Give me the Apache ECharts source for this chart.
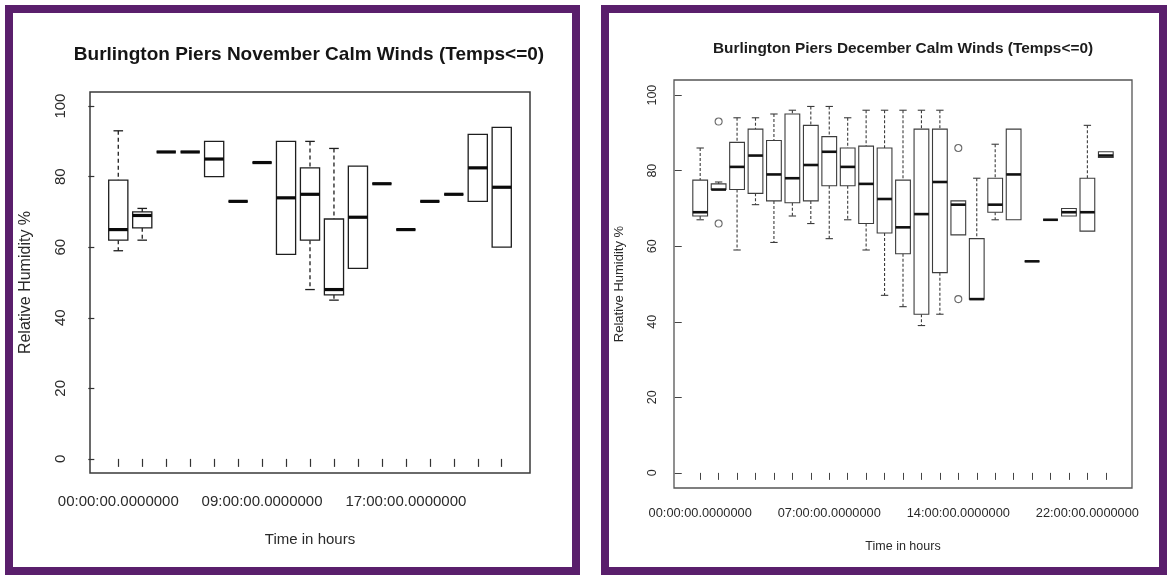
<!DOCTYPE html>
<html>
<head>
<meta charset="utf-8">
<title>Burlington Piers Calm Winds</title>
<script src="https://cdn.jsdelivr.net/npm/echarts@6/dist/echarts.min.js"></script>
<style>
  html, body { margin: 0; padding: 0; background: #ffffff; }
  #chart { width: 1167px; height: 575px; }
</style>
</head>
<body>
<div id="chart"></div>
<script>
// Hour groups (only hours that had calm, sub-zero observations)
const novHours = [
  '00:00:00.0000000', '01:00:00.0000000', '02:00:00.0000000', '04:00:00.0000000',
  '06:00:00.0000000', '07:00:00.0000000', '09:00:00.0000000', '10:00:00.0000000',
  '11:00:00.0000000', '12:00:00.0000000', '14:00:00.0000000', '15:00:00.0000000',
  '17:00:00.0000000', '18:00:00.0000000', '20:00:00.0000000', '21:00:00.0000000',
  '23:00:00.0000000'
];
const decHours = [
  '00:00:00.0000000', '01:00:00.0000000', '02:00:00.0000000', '03:00:00.0000000',
  '04:00:00.0000000', '05:00:00.0000000', '06:00:00.0000000', '07:00:00.0000000',
  '08:00:00.0000000', '09:00:00.0000000', '10:00:00.0000000', '11:00:00.0000000',
  '12:00:00.0000000', '13:00:00.0000000', '14:00:00.0000000', '15:00:00.0000000',
  '16:00:00.0000000', '17:00:00.0000000', '18:00:00.0000000', '20:00:00.0000000',
  '21:00:00.0000000', '22:00:00.0000000', '23:00:00.0000000'
];

// Relative humidity five-number summaries per hour: [min, Q1, median, Q3, max]
const novStats = [
  [59, 62, 65, 79, 93],
  [62, 65.5, 69, 70, 71],
  [87, 87, 87, 87, 87],
  [87, 87, 87, 87, 87],
  [80, 80, 85, 90, 90],
  [73, 73, 73, 73, 73],
  [84, 84, 84, 84, 84],
  [58, 58, 74, 90, 90],
  [48, 62, 75, 82.5, 90],
  [45, 46.5, 48, 68, 88],
  [54, 54, 68.5, 83, 83],
  [78, 78, 78, 78, 78],
  [65, 65, 65, 65, 65],
  [73, 73, 73, 73, 73],
  [75, 75, 75, 75, 75],
  [73, 73, 82.5, 92, 92],
  [60, 60, 77, 94, 94]
];
const decStats = [
  [67, 68, 69, 77.5, 86],
  [75, 75, 75, 76.5, 77],
  [59, 75, 81, 87.5, 94],
  [71, 74, 84, 91, 94],
  [61, 72, 79, 88, 95],
  [68, 71.5, 78, 95, 96],
  [66, 72, 81.5, 92, 97],
  [62, 76, 85, 89, 97],
  [67, 76, 81, 86, 94],
  [59, 66, 76.5, 86.5, 96],
  [47, 63.5, 72.5, 86, 96],
  [44, 58, 65, 77.5, 96],
  [39, 42, 68.5, 91, 96],
  [42, 53, 77, 91, 96],
  [63, 63, 71, 72, 72],
  [46, 46, 46, 62, 78],
  [67, 69, 71, 78, 87],
  [67, 67, 79, 91, 91],
  [56, 56, 56, 56, 56],
  [67, 67, 67, 67, 67],
  [68, 68, 69, 70, 70],
  [64, 64, 69, 78, 92],
  [83.5, 83.5, 84, 85, 85]
];
// Outliers: [group number (1-based), value]
const decOutliers = [[2, 93], [2, 66], [15, 86], [15, 46]];

const yTicks = [0, 20, 40, 60, 80, 100];
const novLabelGroups = [1, 7, 13];
const decLabelGroups = [1, 8, 15, 22];

const FONT = '"Liberation Sans", Arial, Helvetica, sans-serif';

// Box-and-whisker glyph drawn in data coordinates of the owning grid
function boxRenderer(opts) {
  return function (params, api) {
    const x = api.value(0);
    const lo = api.value(1), q1 = api.value(2), med = api.value(3), q3 = api.value(4), hi = api.value(5);
    const half = 0.4, cap = 0.2;
    const tl = api.coord([x - half, q3]);
    const br = api.coord([x + half, q1]);
    const cTop = api.coord([x, hi]);
    const cQ3 = api.coord([x, q3]);
    const cQ1 = api.coord([x, q1]);
    const cLo = api.coord([x, lo]);
    const capL = api.coord([x - cap, 0])[0];
    const capR = api.coord([x + cap, 0])[0];
    const mL = api.coord([x - half, med]);
    const mR = api.coord([x + half, med]);
    const stroke = { stroke: opts.color, lineWidth: opts.lineWidth, fill: null };
    const dashed = { stroke: opts.color, lineWidth: opts.lineWidth, lineDash: opts.dash, fill: null };
    const children = [];
    if (hi > q3) {
      children.push({ type: 'line', shape: { x1: cTop[0], y1: cTop[1], x2: cQ3[0], y2: cQ3[1] }, style: dashed });
      children.push({ type: 'line', shape: { x1: capL, y1: cTop[1], x2: capR, y2: cTop[1] }, style: stroke });
    }
    if (lo < q1) {
      children.push({ type: 'line', shape: { x1: cQ1[0], y1: cQ1[1], x2: cLo[0], y2: cLo[1] }, style: dashed });
      children.push({ type: 'line', shape: { x1: capL, y1: cLo[1], x2: capR, y2: cLo[1] }, style: stroke });
    }
    children.push({
      type: 'rect',
      shape: { x: tl[0], y: tl[1], width: br[0] - tl[0], height: br[1] - tl[1] },
      style: { stroke: opts.color, lineWidth: opts.lineWidth, fill: '#ffffff' }
    });
    children.push({
      type: 'line',
      shape: { x1: mL[0], y1: mL[1], x2: mR[0], y2: mR[1] },
      style: { stroke: opts.medianColor, lineWidth: opts.medianWidth }
    });
    return { type: 'group', children: children };
  };
}

function toItems(stats) {
  return stats.map(function (s, i) { return [i + 1].concat(s); });
}
function range(n) {
  const r = [];
  for (let i = 1; i <= n; i++) r.push(i);
  return r;
}

const nNov = novStats.length;
const nDec = decStats.length;

const chart = echarts.init(document.getElementById('chart'), null, { renderer: 'canvas' });

const frameColor = '#5a1f6c';

const option = {
  backgroundColor: '#ffffff',
  animation: false,
  graphic: [
    { type: 'rect', shape: { x: 9, y: 9, width: 567, height: 562 },
      style: { fill: null, stroke: frameColor, lineWidth: 8 }, z: 10 },
    { type: 'rect', shape: { x: 605, y: 9, width: 558, height: 562 },
      style: { fill: null, stroke: frameColor, lineWidth: 8 }, z: 10 },
    { type: 'text', x: 309, y: 55,
      style: { text: 'Burlington Piers November Calm Winds (Temps<=0)',
        font: 'bold 19px ' + FONT, fill: '#151515',
        align: 'center', verticalAlign: 'middle', textAlign: 'center', textVerticalAlign: 'middle' } },
    { type: 'text', x: 903, y: 49,
      style: { text: 'Burlington Piers December Calm Winds (Temps<=0)',
        font: 'bold 15.4px ' + FONT, fill: '#1c1c1c',
        align: 'center', verticalAlign: 'middle', textAlign: 'center', textVerticalAlign: 'middle' } }
  ],
  grid: [
    { left: 90, top: 92, width: 440, height: 381, show: true,
      borderColor: '#3a3a3a', borderWidth: 1.5, backgroundColor: 'transparent' },
    { left: 674, top: 80, width: 458, height: 408, show: true,
      borderColor: '#555555', borderWidth: 1.3, backgroundColor: 'transparent' }
  ],
  xAxis: [
    {
      type: 'value', gridIndex: 0,
      min: 0.5 - 0.04 * nNov, max: nNov + 0.5 + 0.04 * nNov,
      axisLine: { show: false }, splitLine: { show: false },
      axisTick: { show: true, length: 8, customValues: range(nNov), lineStyle: { color: '#333', width: 1.2 } },
      axisLabel: {
        customValues: novLabelGroups, margin: 21,
        formatter: function (v) { return novHours[Math.round(v) - 1]; },
        fontFamily: FONT, fontSize: 15, color: '#2a2a2a'
      },
      name: 'Time in hours', nameLocation: 'middle', nameGap: 59,
      nameTextStyle: { fontFamily: FONT, fontSize: 15, color: '#2a2a2a' }
    },
    {
      type: 'value', gridIndex: 1,
      min: 0.5 - 0.04 * nDec, max: nDec + 0.5 + 0.04 * nDec,
      axisLine: { show: false }, splitLine: { show: false },
      axisTick: { show: true, length: 7, customValues: range(nDec), lineStyle: { color: '#444', width: 1 } },
      axisLabel: {
        customValues: decLabelGroups, margin: 19,
        formatter: function (v) { return decHours[Math.round(v) - 1]; },
        fontFamily: FONT, fontSize: 12.8, color: '#2a2a2a'
      },
      name: 'Time in hours', nameLocation: 'middle', nameGap: 52,
      nameTextStyle: { fontFamily: FONT, fontSize: 12.5, color: '#2a2a2a' }
    }
  ],
  yAxis: [
    {
      type: 'value', gridIndex: 0, min: -4, max: 104, offset: 4.5,
      axisLine: { show: false }, splitLine: { show: false },
      axisTick: { show: true, length: 6, customValues: yTicks, lineStyle: { color: '#333', width: 1.2 } },
      axisLabel: { customValues: yTicks, rotate: 90, margin: 17,
        fontFamily: FONT, fontSize: 15, color: '#2a2a2a' },
      name: 'Relative Humidity %', nameLocation: 'middle', nameRotate: 90, nameGap: 52,
      nameTextStyle: { fontFamily: FONT, fontSize: 16, color: '#2a2a2a' }
    },
    {
      type: 'value', gridIndex: 1, min: -4, max: 104, offset: 1.5,
      axisLine: { show: false }, splitLine: { show: false },
      axisTick: { show: true, length: 7, customValues: yTicks, lineStyle: { color: '#444', width: 1 } },
      axisLabel: { customValues: yTicks, rotate: 90, margin: 13,
        fontFamily: FONT, fontSize: 12.5, color: '#2a2a2a' },
      name: 'Relative Humidity %', nameLocation: 'middle', nameRotate: 90, nameGap: 47,
      nameTextStyle: { fontFamily: FONT, fontSize: 13, color: '#2a2a2a' }
    }
  ],
  series: [
    {
      type: 'custom', name: 'November', xAxisIndex: 0, yAxisIndex: 0,
      data: toItems(novStats),
      encode: { x: 0, y: [1, 2, 3, 4, 5] },
      renderItem: boxRenderer({ color: '#1e1e1e', lineWidth: 1.3, dash: [4, 3],
        medianColor: '#0a0a0a', medianWidth: 3.2 })
    },
    {
      type: 'custom', name: 'December', xAxisIndex: 1, yAxisIndex: 1,
      data: toItems(decStats),
      encode: { x: 0, y: [1, 2, 3, 4, 5] },
      renderItem: boxRenderer({ color: '#3c3c3c', lineWidth: 1.1, dash: [3, 2],
        medianColor: '#111111', medianWidth: 2.6 })
    },
    {
      type: 'scatter', name: 'December outliers', xAxisIndex: 1, yAxisIndex: 1,
      data: decOutliers, symbol: 'circle', symbolSize: 7,
      itemStyle: { color: '#ffffff', borderColor: '#444', borderWidth: 1.1 }
    }
  ]
};

chart.setOption(option);
</script>
</body>
</html>
